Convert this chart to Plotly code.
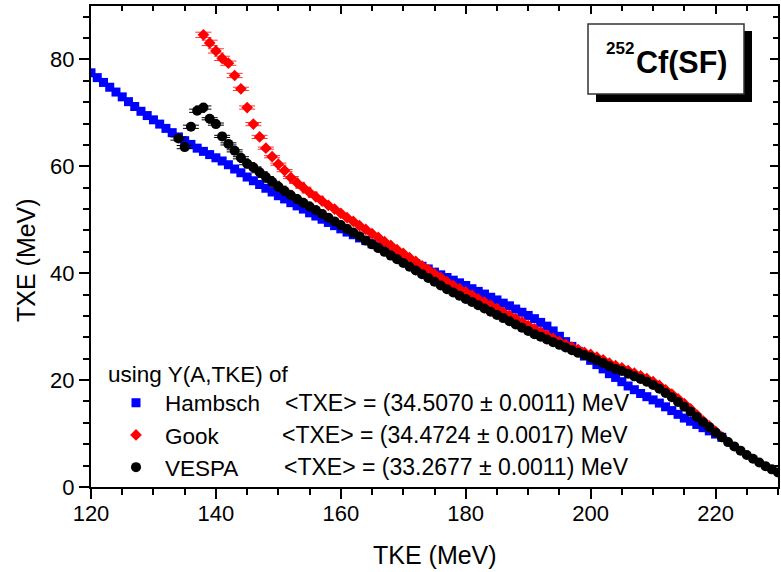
import plotly.graph_objects as go

FONT = "Liberation Sans, Arial, Helvetica, sans-serif"

# ---------------- data ----------------
series_names = ["Hambsch", "Gook", "VESPA"]
mean_txe_labels = ["&lt;TXE&gt; = (34.5070 ± 0.0011) MeV",
                   "&lt;TXE&gt; = (34.4724 ± 0.0017) MeV",
                   "&lt;TXE&gt; = (33.2677 ± 0.0011) MeV"]

tke_start_hambsch = 120
txe_hambsch = [
    77.5, 76.6, 75.7, 74.8, 73.9, 73.0, 72.1, 71.2, 70.3, 69.5,   # 120-129
    68.7, 67.9, 67.1, 66.3, 65.5, 64.8, 64.1, 63.4, 62.8, 62.2,   # 130-139
    61.6, 61.0, 60.3, 59.5, 58.8, 58.0, 57.3, 56.6, 55.9, 55.2,   # 140-149
    54.5, 53.9, 53.2, 52.6, 52.0, 51.3, 50.7, 50.1, 49.5, 48.9,   # 150-159
    48.3, 47.7, 47.2, 46.6, 46.1, 45.5, 45.0, 44.4, 43.9, 43.3,   # 160-169
    42.8, 42.3, 41.8, 41.3, 40.8, 40.2, 39.7, 39.2, 38.7, 38.2,   # 170-179
    37.7, 37.1, 36.6, 36.1, 35.5, 35.0, 34.4, 33.9, 33.3, 32.7,   # 180-189
    32.1, 31.5, 30.8, 30.1, 29.2, 28.2, 27.2, 26.3, 25.4, 24.5,   # 190-199
    23.7, 22.9, 22.1, 21.2, 20.5, 19.7, 18.9, 18.2, 17.5, 16.9,   # 200-209
    16.3, 15.7, 15.0, 14.3, 13.6, 12.9, 12.3, 11.7, 11.1, 10.5,   # 210-219
    9.9, 9.3,                                                     # 220-221
]

tke_start_gook = 138
txe_gook = [
    84.6, 83.1, 81.6, 80.2, 79.3, 77.0, 74.5, 71.0, 67.9, 65.5,   # 138-147
    63.4, 61.8, 60.4, 59.2, 57.9, 56.9, 56.0, 55.1, 54.3, 53.5,   # 148-157
    52.7, 52.0, 51.2, 50.4, 49.7, 48.9, 48.2, 47.4, 46.7, 45.9,   # 158-167
    45.2, 44.4, 43.7, 42.9, 42.2, 41.4, 40.7, 39.9, 39.2, 38.4,   # 168-177
    37.7, 37.1, 36.5, 35.9, 35.2, 34.6, 34.0, 33.4, 32.7, 32.1,   # 178-187
    31.5, 30.9, 30.2, 29.6, 29.0, 28.4, 27.8, 27.2, 26.7, 26.2,   # 188-197
    25.7, 25.2, 24.8, 24.3, 23.8, 23.2, 22.7, 22.3, 21.8, 21.3,   # 198-207
    20.8, 20.3, 19.7, 19.0, 18.2, 17.4, 16.5, 15.6, 14.6, 13.5,   # 208-217
    12.4, 11.4, 10.4, 9.4,                                        # 218-221
]
err_gook = [0.5, 0.5, 0.4, 0.4, 0.4, 0.4, 0.3, 0.3, 0.3, 0.3,
            0.2, 0.2, 0.2, 0.2, 0.2, 0.1, 0.1, 0.1, 0.1]

tke_start_vespa = 134
txe_vespa = [
    65.2, 63.6, 67.4, 70.4, 71.0, 68.9, 67.9, 65.6, 64.2, 62.9,   # 134-143
    61.6, 60.5, 59.8, 58.9, 58.0, 57.1, 56.2, 55.4, 54.6, 53.9,   # 144-153
    53.2, 52.5, 51.8, 51.1, 50.4, 49.7, 49.0, 48.3, 47.6, 46.9,   # 154-163
    46.1, 45.4, 44.7, 44.0, 43.3, 42.6, 41.9, 41.2, 40.5, 39.8,   # 164-173
    39.1, 38.4, 37.7, 37.0, 36.4, 35.8, 35.2, 34.6, 34.0, 33.4,   # 174-183
    32.8, 32.2, 31.6, 31.0, 30.4, 29.8, 29.2, 28.6, 28.1, 27.6,   # 184-193
    27.1, 26.6, 26.1, 25.6, 25.1, 24.7, 24.3, 23.7, 23.2, 22.6,   # 194-203
    22.1, 21.7, 21.2, 20.7, 20.2, 19.7, 19.1, 18.4, 17.6, 16.8,   # 204-213
    15.9, 15.0, 14.1, 13.1, 12.1, 11.2, 10.2, 9.3, 8.4, 7.6,      # 214-223
    6.8, 6.0, 5.3, 4.6, 3.9, 3.3, 2.7,                            # 224-230
]
err_vespa = [0.3, 0.3, 0.3, 0.3, 0.3, 0.2, 0.2, 0.2, 0.2, 0.2, 0.2, 0.2,
             0.1, 0.1, 0.1, 0.1, 0.1, 0.1, 0.1, 0.1, 0.1, 0.1, 0.1]

tke_hambsch = list(range(tke_start_hambsch, tke_start_hambsch + len(txe_hambsch)))
tke_gook = list(range(tke_start_gook, tke_start_gook + len(txe_gook)))
tke_vespa = list(range(tke_start_vespa, tke_start_vespa + len(txe_vespa)))

x_tick_vals = [120, 140, 160, 180, 200, 220]
y_tick_vals = [0, 20, 40, 60, 80]

# ---------------- geometry helpers ----------------
W, H = 781, 572
ML, MR, MT, MB = 91, 3, 6, 85
PW, PH = W - ML - MR, H - MT - MB


def px(x):
    return (x - ML) / PW


def py(y):
    return (H - MB - y) / PH


fig = go.Figure()

# Hambsch
fig.add_trace(go.Scatter(
    x=tke_hambsch, y=txe_hambsch, mode="markers", name=series_names[0],
    marker=dict(symbol="square", size=9, color="#0000ff", line=dict(width=0)),
))

# Gook
ng = len(err_gook)
fig.add_trace(go.Scatter(
    x=tke_gook[:ng], y=txe_gook[:ng], mode="markers", name=series_names[1],
    marker=dict(symbol="diamond", size=9, color="#ff0000", line=dict(width=0)),
    error_y=dict(type="data", array=err_gook, color="#ff3030", thickness=1, width=8),
))
fig.add_trace(go.Scatter(
    x=tke_gook[ng:], y=txe_gook[ng:], mode="markers", showlegend=False,
    marker=dict(symbol="diamond", size=9, color="#ff0000", line=dict(width=0)),
))

# VESPA
nv = len(err_vespa)
fig.add_trace(go.Scatter(
    x=tke_vespa[:nv], y=txe_vespa[:nv], mode="markers", name=series_names[2],
    marker=dict(symbol="circle", size=10, color="#000000", line=dict(width=0)),
    error_y=dict(type="data", array=err_vespa, color="#000000", thickness=1, width=8),
))
fig.add_trace(go.Scatter(
    x=tke_vespa[nv:], y=txe_vespa[nv:], mode="markers", showlegend=False,
    marker=dict(symbol="circle", size=10, color="#000000", line=dict(width=0)),
))

# invisible trace so that the mirrored (top/right) axes get drawn
fig.add_trace(go.Scatter(x=[None], y=[None], xaxis="x2", yaxis="y2",
                         showlegend=False, hoverinfo="skip"))

axis_common = dict(showline=True, linecolor="black", linewidth=2, showgrid=False,
                   zeroline=False, tickcolor="black", tickwidth=1.5)

legend_rows_y = [403.4, 435, 466.6]
txe_text_x = [283, 280, 282]

annotations = [
    dict(text="<b>Cf(SF)</b>", xref="paper", yref="paper", x=px(634), y=py(62.5),
         xanchor="left", yanchor="middle", showarrow=False,
         font=dict(size=30.5, family=FONT, color="black")),
    dict(text="<b>252</b>", xref="paper", yref="paper", x=px(636), y=py(49),
         xanchor="right", yanchor="middle", showarrow=False,
         font=dict(size=17, family=FONT, color="black")),
    dict(text="using Y(A,TKE) of", xref="paper", yref="paper", x=px(106), y=py(374),
         xanchor="left", yanchor="middle", showarrow=False,
         font=dict(size=22.5, family=FONT, color="black")),
    dict(text="TKE (MeV)", xref="paper", yref="paper", x=px(435), y=py(555),
         xanchor="center", yanchor="middle", showarrow=False,
         font=dict(size=25, family=FONT, color="black")),
    dict(text="TXE (MeV)", xref="paper", yref="paper", x=px(26), y=py(260),
         xanchor="center", yanchor="middle", showarrow=False, textangle=-90,
         font=dict(size=25, family=FONT, color="black")),
]
for label, xx, yy in zip(mean_txe_labels, txe_text_x, legend_rows_y):
    annotations.append(dict(text=label, xref="paper", yref="paper", x=px(xx), y=py(yy),
                            xanchor="left", yanchor="middle", showarrow=False,
                            font=dict(size=23, family=FONT, color="black")))

fig.update_layout(
    width=W, height=H,
    margin=dict(l=ML, r=MR, t=MT, b=MB, pad=0),
    paper_bgcolor="white", plot_bgcolor="white",
    font=dict(family=FONT, size=22, color="black"),
    xaxis=dict(range=[120, 230], tickvals=x_tick_vals, ticks="outside", ticklen=10,
               tickfont=dict(size=22), ticklabelstandoff=-4,
               minor=dict(dtick=5, tick0=120, ticks="outside", ticklen=6,
                          tickwidth=1.5, tickcolor="black", showgrid=False),
               **axis_common),
    yaxis=dict(range=[0, 90], tickvals=y_tick_vals, ticks="outside", ticklen=10,
               tickfont=dict(size=22),
               minor=dict(dtick=4, tick0=0, ticks="outside", ticklen=6,
                          tickwidth=1.5, tickcolor="black", showgrid=False),
               **axis_common),
    xaxis2=dict(range=[120, 230], overlaying="x", side="top", anchor="y",
                tickvals=x_tick_vals, ticks="inside", ticklen=8, showticklabels=False,
                minor=dict(dtick=5, tick0=120, ticks="inside", ticklen=5,
                           tickwidth=1.5, tickcolor="black", showgrid=False),
                **axis_common),
    yaxis2=dict(range=[0, 90], overlaying="y", side="right", anchor="x",
                tickvals=y_tick_vals, ticks="inside", ticklen=8, showticklabels=False,
                minor=dict(dtick=4, tick0=0, ticks="inside", ticklen=5,
                           tickwidth=1.5, tickcolor="black", showgrid=False),
                **axis_common),
    showlegend=True,
    legend=dict(x=px(107), y=py(435), xanchor="left", yanchor="middle",
                bgcolor="rgba(0,0,0,0)", borderwidth=0, tracegroupgap=0,
                itemwidth=48,
                font=dict(size=22.5, family=FONT, color="black")),
    shapes=[
        dict(type="rect", xref="paper", yref="paper",
             x0=px(596), x1=px(752), y0=py(102), y1=py(31),
             fillcolor="black", line=dict(width=0)),
        dict(type="rect", xref="paper", yref="paper",
             x0=px(588), x1=px(744), y0=py(94), y1=py(24),
             fillcolor="white", line=dict(color="#333333", width=1.5)),
    ],
    annotations=annotations,
)

fig.write_html("out.html")
